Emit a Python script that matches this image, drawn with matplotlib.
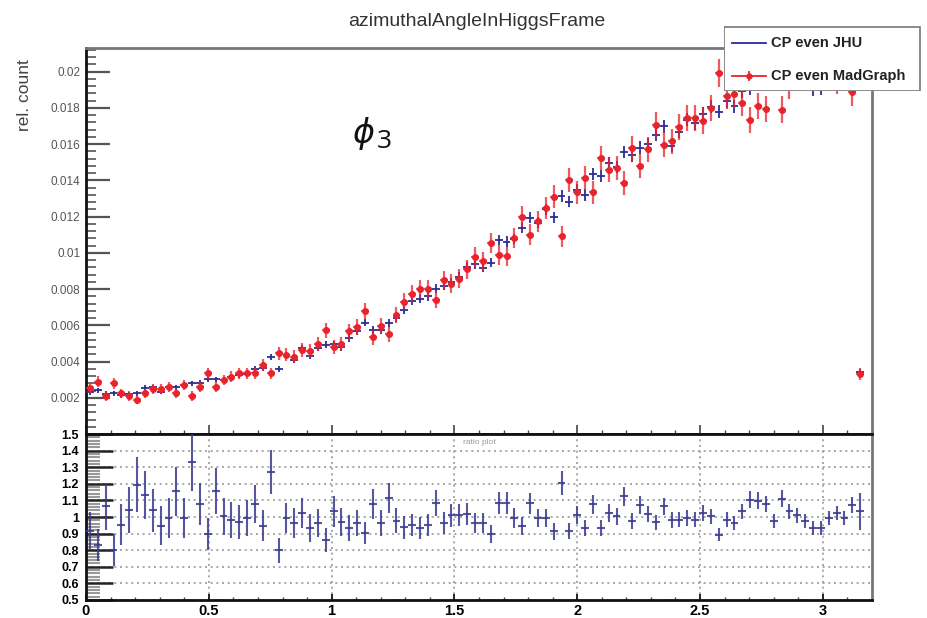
import numpy as np
import matplotlib
matplotlib.use('Agg')
import matplotlib.pyplot as plt
from matplotlib.ticker import MultipleLocator, FixedLocator, FuncFormatter, NullFormatter
from matplotlib.patches import Rectangle

plt.rcParams['font.family'] = ['Liberation Sans', 'DejaVu Sans']
plt.rcParams['mathtext.fontset'] = 'dejavusans'

# ---------------- data ----------------
x_min, x_max = 0.0, 3.2
bin_width = 0.032
n_filled = 99

# relative counts (units of 1e-3)
jhu_vals = [2.30, 2.41, 2.23, 2.24, 2.14, 2.18, 2.25, 2.54, 2.57, 2.34,
            2.59, 2.59, 2.68, 2.79, 2.81, 3.01, 3.01, 2.99, 3.12, 3.24,
            3.33, 3.61, 3.62, 4.25, 3.56, 4.35, 4.10, 4.73, 4.30, 4.77,
            4.92, 4.96, 4.79, 5.29, 5.69, 6.15, 5.75, 5.74, 6.13, 6.41,
            6.85, 7.36, 7.47, 7.60, 8.02, 8.19, 8.38, 8.66, 9.24, 9.40,
            9.18, 9.46, 10.72, 10.62, 10.75, 11.38, 11.92, 11.66, 12.40, 11.97,
            13.13, 12.82, 13.46, 13.20, 14.37, 14.22, 14.94, 14.74, 15.57, 15.37,
            15.80, 16.00, 16.52, 16.99, 15.89, 16.67, 17.34, 17.16, 17.67, 18.06,
            17.79, 18.36, 18.08, 18.90, 19.11, 19.87, 19.34, 19.40, 19.87, 19.90,
            19.95, 19.60, 19.05, 19.10, 19.85, 20.00, 19.90, 20.20, 3.42]

mg_vals = [2.52, 2.89, 2.10, 2.80, 2.24, 2.10, 1.88, 2.24, 2.47, 2.47,
           2.61, 2.24, 2.70, 2.10, 2.61, 3.35, 2.61, 2.98, 3.17, 3.35,
           3.35, 3.35, 3.82, 3.35, 4.45, 4.38, 4.25, 4.62, 4.60, 4.95,
           5.72, 4.80, 4.95, 5.66, 5.90, 6.80, 5.33, 5.95, 5.50, 6.55,
           7.30, 7.75, 8.00, 8.00, 7.40, 8.50, 8.30, 8.57, 9.08, 9.75,
           9.52, 10.54, 9.89, 9.80, 10.81, 12.00, 11.00, 11.73, 12.47, 13.10,
           10.90, 14.03, 13.33, 14.13, 13.33, 15.23, 14.59, 14.68, 13.85, 15.78,
           14.77, 15.72, 17.07, 15.97, 16.15, 16.94, 17.44, 17.44, 17.26, 17.99,
           19.92, 18.66, 18.76, 18.28, 17.31, 18.10, 17.94, 19.92, 17.90, 19.25,
           19.75, 20.12, 20.40, 20.45, 19.97, 19.53, 20.02, 18.88, 3.31]

ratio_vals = [0.914, 0.833, 1.064, 0.800, 0.954, 1.040, 1.195, 1.134, 1.040, 0.948,
              0.994, 1.155, 0.994, 1.330, 1.078, 0.898, 1.155, 1.004, 0.984, 0.968,
              0.994, 1.078, 0.948, 1.270, 0.800, 0.994, 0.964, 1.024, 0.934, 0.964,
              0.860, 1.034, 0.968, 0.934, 0.964, 0.904, 1.078, 0.964, 1.114, 0.978,
              0.938, 0.950, 0.934, 0.950, 1.084, 0.964, 1.010, 1.010, 1.018, 0.964,
              0.964, 0.898, 1.084, 1.084, 0.994, 0.948, 1.084, 0.994, 0.994, 0.914,
              1.205, 0.914, 1.010, 0.934, 1.078, 0.934, 1.024, 1.004, 1.124, 0.974,
              1.070, 1.018, 0.968, 1.064, 0.984, 0.984, 0.994, 0.984, 1.024, 1.004,
              0.893, 0.984, 0.964, 1.034, 1.104, 1.098, 1.078, 0.974, 1.110, 1.034,
              1.010, 0.974, 0.934, 0.934, 0.994, 1.024, 0.994, 1.070, 1.034]

n_events_jhu = 130000
n_events_mg = 33000

legend_labels = ["CP even JHU", "CP even MadGraph"]
title_text = "azimuthalAngleInHiggsFrame"
y_label = "rel. count"

# ---------------- derived ----------------
centers = x_min + bin_width * (np.arange(n_filled) + 0.5)
jhu = np.array(jhu_vals) * 1e-3
mg = np.array(mg_vals) * 1e-3
ratio = np.array(ratio_vals)
err_jhu = np.sqrt(jhu / n_events_jhu)
err_mg = np.sqrt(mg / n_events_mg)
err_ratio = ratio * np.sqrt((err_jhu / jhu) ** 2 + (err_mg / mg) ** 2)

# ---------------- figure ----------------
W, H = 928, 618
fig = plt.figure(figsize=(W / 100, H / 100), dpi=100)


def rect(l, t, r, b):
    return [l / W, 1 - b / H, (r - l) / W, (b - t) / H]


PT = 72 / 100.0  # points per pixel

blue = '#2c2c94'
red = '#e8232b'
navy = '#3a3a90'

ax = fig.add_axes(rect(86, 48, 872, 434))
ax.errorbar(centers, jhu, yerr=err_jhu, xerr=bin_width / 2, fmt='none',
            ecolor=blue, elinewidth=1.3, capsize=0, zorder=3)
ax.errorbar(centers, mg, yerr=err_mg, xerr=bin_width / 2, fmt='none',
            ecolor=red, elinewidth=1.6, alpha=0.75, capsize=0, zorder=4)
ax.plot(centers, mg, 'o', color=red, ms=4.0, zorder=5)
ax.set_xlim(x_min, x_max)
ax.set_ylim(0, 0.0213)
ax.yaxis.set_major_locator(FixedLocator(np.arange(0.002, 0.0201, 0.002)))
ax.yaxis.set_minor_locator(MultipleLocator(0.0004))
ax.yaxis.set_major_formatter(FuncFormatter(lambda v, p: ('%.3f' % v).rstrip('0')))
ax.xaxis.set_major_locator(MultipleLocator(0.5))
ax.xaxis.set_minor_locator(MultipleLocator(0.1))
ax.xaxis.set_major_formatter(NullFormatter())
ax.tick_params(axis='y', which='major', direction='in', length=24 * PT, width=1.6,
               color='#555', labelsize=8.5, labelcolor='#555', pad=4)
ax.tick_params(axis='y', which='minor', direction='in', length=10 * PT, width=1.2, color='#555')
ax.tick_params(axis='x', which='major', direction='in', length=9 * PT, width=1.2, color='#444')
ax.tick_params(axis='x', which='minor', direction='in', length=4.5 * PT, width=1.0, color='#444')
for s in ['left', 'bottom']:
    ax.spines[s].set_linewidth(2)
    ax.spines[s].set_color('#111')
for s in ['top', 'right']:
    ax.spines[s].set_linewidth(2)
    ax.spines[s].set_color('#777')

axr = fig.add_axes(rect(86, 434, 872, 600))
axr.errorbar(centers, ratio, yerr=err_ratio, xerr=bin_width / 2, fmt='none',
             ecolor=navy, elinewidth=1.5, alpha=0.85, capsize=0, zorder=3)
axr.set_xlim(x_min, x_max)
axr.set_ylim(0.5, 1.5)
axr.yaxis.set_major_locator(MultipleLocator(0.1))
axr.yaxis.set_minor_locator(MultipleLocator(0.02))
axr.yaxis.set_major_formatter(FuncFormatter(lambda v, p: '%g' % round(v, 2)))
axr.xaxis.set_major_locator(MultipleLocator(0.5))
axr.xaxis.set_minor_locator(MultipleLocator(0.1))
axr.xaxis.set_major_formatter(FuncFormatter(lambda v, p: '%g' % round(v, 2)))
axr.tick_params(axis='y', which='major', direction='in', length=27 * PT, width=1.8,
                color='#222', labelsize=9, pad=5)
axr.tick_params(axis='y', which='minor', direction='in', length=14 * PT, width=1.5, color='#999')
axr.tick_params(axis='x', which='major', direction='in', length=6 * PT, width=1.4,
                color='#222', labelsize=10.5, pad=3)
axr.tick_params(axis='x', which='minor', direction='in', length=3 * PT, width=1.0, color='#444')
for lab in axr.get_xticklabels() + axr.get_yticklabels():
    lab.set_fontweight('bold')
axr.grid(True, which='major', axis='both', color='#9a9a9a', linestyle=(0, (1.2, 2.2)), linewidth=1.2)
axr.set_axisbelow(True)
for s in ['left', 'bottom', 'top']:
    axr.spines[s].set_linewidth(2)
    axr.spines[s].set_color('#111')
axr.spines['right'].set_linewidth(2)
axr.spines['right'].set_color('#777')

# texts
fig.text(477 / W, 1 - 21 / H, title_text, ha='center', va='center', fontsize=14, color='#333')
fig.text(25 / W, 1 - 95 / H, y_label, rotation=90, ha='center', va='center', fontsize=12.5, color='#444')
fig.text(352 / W, 1 - 133 / H, r'$\phi$', ha='left', va='center', fontsize=24, color='#111')
fig.text(377 / W, 1 - 148 / H, '3', ha='left', va='baseline', fontsize=19,
         color='#111', family=['Open Sans', 'DejaVu Sans'])
fig.text(479 / W, 1 - 442 / H, 'ratio plot', ha='center', va='center', fontsize=6, color='#999')

# legend (manual, ROOT style)
axl = fig.add_axes(rect(724, 26, 921, 91), zorder=10)
axl.set_xlim(0, 197)
axl.set_ylim(65, 0)
axl.axis('off')
axl.add_patch(Rectangle((0.5, 0.5), 196, 64, facecolor='white', edgecolor='#777', lw=1.2))
axl.plot([8, 42], [17, 17], color=blue, lw=1.3)
axl.plot([8, 42], [50, 50], color=red, lw=1.3)
axl.plot([25, 25], [46, 54], color=red, lw=1.3)
axl.plot([25], [50], 'o', color=red, ms=3.5)
axl.text(47, 17, legend_labels[0], va='center', ha='left', fontsize=10.5, fontweight='bold', color='#222')
axl.text(47, 50, legend_labels[1], va='center', ha='left', fontsize=10.5, fontweight='bold', color='#222')

fig.savefig('out.png', dpi=100)
